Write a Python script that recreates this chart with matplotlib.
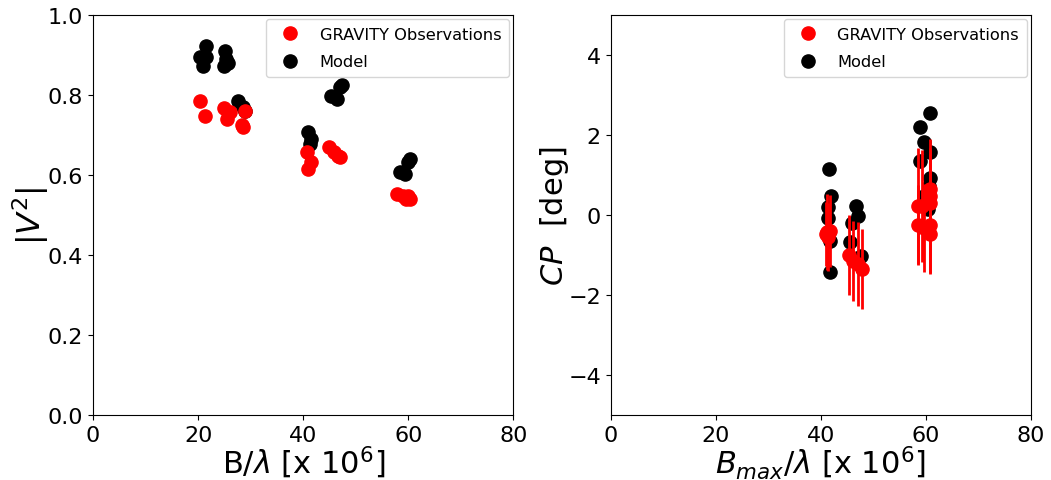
import numpy as np
import matplotlib
matplotlib.use('Agg')
import matplotlib.pyplot as plt

# |V^2| panel
v2_obs_x = [20.4, 21.3, 24.9, 25.7, 25.5, 26.1, 28.4, 28.6, 29.0,
            40.8, 41.0, 41.4, 45.0, 45.9, 46.7, 47.0,
            57.9, 58.9, 60.0, 60.4, 59.6]
v2_obs_y = [0.785, 0.748, 0.768, 0.757, 0.740, 0.757, 0.725, 0.720, 0.760,
            0.657, 0.615, 0.632, 0.670, 0.657, 0.647, 0.645,
            0.552, 0.548, 0.548, 0.540, 0.540]
v2_obs_err = [0.012, 0.012, 0.012, 0.012, 0.012, 0.012, 0.012, 0.012, 0.012,
              0.012, 0.012, 0.012, 0.010, 0.010, 0.010, 0.010,
              0.010, 0.010, 0.010, 0.010, 0.010]
v2_mod_x = [20.4, 21.5, 21.0, 21.5, 25.1, 25.3, 25.7, 24.9, 27.6, 28.6, 29.0,
            41.0, 41.2, 41.4, 45.3, 46.4, 47.0, 47.4,
            58.5, 59.4, 60.0, 60.4]
v2_mod_y = [0.895, 0.922, 0.872, 0.895, 0.910, 0.890, 0.880, 0.872, 0.785, 0.770, 0.760,
            0.707, 0.678, 0.690, 0.797, 0.790, 0.820, 0.825,
            0.607, 0.603, 0.632, 0.640]

# closure phase panel
cp_obs_x = [41.1, 41.7, 41.4, 40.9,
            45.4, 46.2, 47.1, 47.8,
            58.5, 60.8, 60.8, 58.5, 60.8, 60.8, 59.6, 59.3, 60.8]
cp_obs_y = [-0.43, -0.40, -0.56, -0.47,
            -1.00, -1.14, -1.23, -1.35,
            0.23, 0.48, 0.30, -0.25, -0.25, -0.48, -0.32, 0.23, 0.65]
cp_obs_err = [0.95, 0.90, 0.85, 0.80,
              1.00, 1.00, 1.05, 1.00,
              1.45, 1.20, 1.30, 1.00, 1.20, 1.00, 1.10, 1.40, 1.25]
cp_mod_x = [41.6, 41.9, 41.3, 41.4, 41.8, 41.7,
            46.7, 47.1, 46.0, 45.5, 47.6,
            60.8, 58.9, 59.7, 60.8, 58.9, 60.8, 60.6, 59.6, 60.4]
cp_mod_y = [1.15, 0.48, 0.19, -0.08, -0.64, -1.42,
            0.23, -0.03, -0.20, -0.68, -1.03,
            2.55, 2.21, 1.83, 1.58, 1.36, 0.92, 0.72, 0.48, 0.15]

fig = plt.figure(figsize=(10.51, 4.81), dpi=100)
ax1 = fig.add_axes([0.0885, 0.135, 0.4, 0.832])
ax2 = fig.add_axes([0.581, 0.135, 0.4, 0.832])

ms = 9.5
ax1.plot(v2_mod_x, v2_mod_y, 'o', color='black', ms=ms, label='Model', zorder=2)
ax1.errorbar(v2_obs_x, v2_obs_y, yerr=v2_obs_err, fmt='none', ecolor='red', elinewidth=2, zorder=3)
ax1.plot(v2_obs_x, v2_obs_y, 'o', color='red', ms=ms, label='GRAVITY Observations', zorder=3)
ax1.set_xlim(0, 80)
ax1.set_ylim(0, 1.0)
ax1.set_xlabel(r'B/$\lambda$ [x 10$^6$]', fontsize=22, labelpad=-1)
ax1.set_ylabel(r'|$V^2$|', fontsize=23, labelpad=-2)

ax2.plot(cp_mod_x, cp_mod_y, 'o', color='black', ms=ms, label='Model', zorder=2)
ax2.errorbar(cp_obs_x, cp_obs_y, yerr=cp_obs_err, fmt='none', ecolor='red', elinewidth=2, zorder=3)
ax2.plot(cp_obs_x, cp_obs_y, 'o', color='red', ms=ms, label='GRAVITY Observations', zorder=3)
ax2.set_xlim(0, 80)
ax2.set_ylim(-5, 5)
ax2.set_xlabel(r'$B_{max}/\lambda$ [x 10$^6$]', fontsize=22, labelpad=-1)
ax2.set_ylabel(r'$CP$  [deg]', fontsize=22, labelpad=-2)

for ax in (ax1, ax2):
    ax.tick_params(labelsize=16)
    h, l = ax.get_legend_handles_labels()
    ax.legend(h[::-1], l[::-1], loc='upper right', fontsize=11.7, numpoints=1,
              borderaxespad=0.25, borderpad=0.5, labelspacing=0.75)

fig.savefig('out.png', dpi=100)
